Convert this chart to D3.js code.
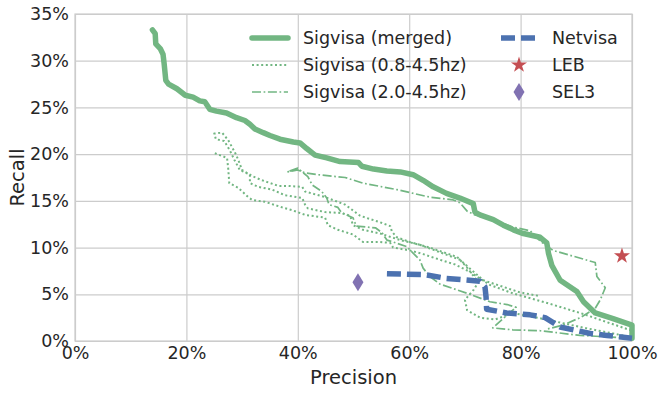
<!DOCTYPE html>
<html>
<head>
<meta charset="utf-8">
<script src="https://cdn.jsdelivr.net/npm/d3@7"></script>
<style>
  body { margin: 0; background: #fff; }
  text { font-family: "DejaVu Sans", sans-serif; fill: #262626; }
</style>
</head>
<body>
<div class="container"></div>
<script>
const w = 665
const h = 394
const margin = {top: 14, right: 33, bottom: 53, left: 75}

// precision %, recall %
const merged = [[13.9,33.3],[14.4,32.9],[14.5,31.8],[15.3,31.3],[15.8,30.7],[16.0,29.7],[16.3,27.9],[16.8,27.5],
  [18.3,27.0],[19.8,26.3],[21.2,26.1],[22.4,25.7],[23.3,25.6],[24.2,24.8],[25.4,24.6],[27.2,24.4],[29.0,23.9],
  [30.5,23.6],[31.4,23.2],[32.3,22.7],[33.8,22.3],[35.0,22.0],[36.8,21.6],[39.2,21.3],[40.4,21.2],[41.6,20.6],
  [43.1,19.9],[45.2,19.6],[47.6,19.2],[50.9,19.1],[51.5,18.7],[53.6,18.4],[56.0,18.2],[58.4,18.1],[60.7,17.8],
  [62.5,17.2],[64.3,16.5],[66.7,15.8],[69.1,15.3],[71.5,14.7],[71.8,13.8],[72.7,13.5],[75.1,13.0],[76.9,12.4],
  [78.7,11.9],[80.5,11.5],[83.5,11.1],[84.7,10.5],[85.0,9.4],[85.6,8.1],[87.1,6.5],[90.1,5.3],[91.3,4.2],
  [93.4,3.0],[96.6,2.4],[100,1.7],[100,0.3]]

const band08 = [[25.1,20.1],[27.3,19.6],[27.5,18.5],[27.7,16.9],[29.3,16.4],[31.1,15.4],[31.8,15.1],[34.1,14.9],
  [37.2,14.3],[39.0,14.0],[41.3,13.5],[44.9,13.2],[45.4,12.4],[47.2,11.9],[49.9,11.4],[51.7,10.6],[54.8,10.6],
  [56.6,10.5],[57.1,10.0],[60.1,9.7],[62.5,9.3],[65.5,8.7],[68.2,8.2],[70.9,7.4],[74.5,6.0],[78.6,5.1],
  [84.6,4.1],[90.7,3.0],[100,1.1],[100,0.4],[90.7,1.5],[84.6,2.3],[78.6,3.0],[75.4,2.3],[72.7,2.5],[70.4,3.3],
  [70.0,4.4],[71.6,5.5],[72.4,6.3],[70.2,8.0],[68.6,9.0],[63.7,10.0],[60.1,10.6],[57.8,11.1],[56.9,11.7],
  [56.6,12.3],[54.8,12.7],[51.2,13.4],[48.5,14.6],[44.9,15.4],[41.3,16.0],[40.8,16.5],[38.2,16.6],[36.5,16.6],
  [33.6,17.2],[32.0,17.6],[30.0,18.3],[29.3,19.4],[28.7,20.2],[27.5,21.5],[26.4,22.3],[25.0,22.2],[25.3,21.6],
  [26.8,21.4],[27.8,20.4],[28.6,19.4],[29.6,18.3],[31.4,17.8],[31.4,16.9],[32.9,16.5],[35.4,16.2],[37.7,15.6],
  [40.8,15.3],[41.3,14.6],[41.8,14.2],[44.9,13.8],[47.9,13.7],[49.4,13.4],[49.9,12.4],[51.7,11.9],[54.8,11.5],
  [58.4,10.8],[61.9,10.3],[65.5,9.5],[69.1,8.7],[73.3,6.5],[79.9,5.2],[83.5,4.8]]

const band20 = [[100,0.3],[90.7,0.6],[83.5,1.1],[78.6,1.2],[75.0,1.4],[76.7,2.3],[77.6,2.8],[79.2,3.6],[77.6,3.9],
  [74.5,4.2],[70.4,5.1],[65.5,6.1],[63.7,6.9],[62.5,7.8],[61.9,8.7],[60.7,9.4],[59.6,10.1],[57.1,10.6],
  [56.0,10.8],[55.1,11.6],[54.0,12.1],[50.5,12.3],[49.9,13.2],[47.9,13.7],[47.2,14.3],[45.6,14.6],[45.2,15.3],
  [44.3,16.0],[42.6,16.7],[41.8,17.6],[40.0,18.5],[38.1,18.1],[40.0,18.3],[41.3,18.0],[43.6,17.8],[48.5,17.5],
  [51.7,16.9],[57.8,16.2],[63.7,15.4],[67.9,15.1],[69.1,14.8],[70.4,13.9],[71.8,13.5],[75.0,13.0],[78.6,12.2],
  [81.7,11.8],[83.5,10.7],[85.8,9.7],[93.4,8.4],[93.7,6.9],[95.2,5.7],[94.3,4.4],[93.4,3.5],[90.7,2.5],
  [87.6,1.7],[84.9,1.3]]

const netvisa = [[56.0,7.2],[62.8,7.1],[66.7,6.7],[72.7,6.4],[73.6,5.8],[73.8,4.7],[73.9,3.4],[77.5,3.0],
  [81.7,2.8],[84.4,2.5],[87.1,1.5],[92.5,0.8],[95.5,0.6],[100,0.3]]

const leb = [98.2, 9.1]
const sel3 = [50.8, 6.3]

const xTicks = [0, 20, 40, 60, 80, 100]
const yTicks = [0, 5, 10, 15, 20, 25, 30, 35]

const green = "#72b682"
const blue = "#4c72b0"
const red = "#c44e52"
const purple = "#8172b2"

const svg = d3.select(".container")
              .append("svg")
              .attr("width", w)
              .attr("height", h)

const pw = w - margin.left - margin.right
const ph = h - margin.top - margin.bottom

const xScale = d3.scaleLinear().domain([0, 100]).range([0, pw])
const yScale = d3.scaleLinear().domain([0, 35]).range([ph, 0])

const g = svg.append("g").attr("transform", `translate(${margin.left}, ${margin.top})`)

const xAxis = d3.axisBottom(xScale)
                .tickValues(xTicks)
                .tickSizeInner(-ph)
                .tickSizeOuter(0)
                .tickPadding(6)
                .tickFormat(d => d + "%")
const yAxis = d3.axisLeft(yScale)
                .tickValues(yTicks)
                .tickSizeInner(-pw)
                .tickSizeOuter(0)
                .tickPadding(6)
                .tickFormat(d => d + "%")

const gx = g.append("g").attr("transform", `translate(0, ${ph})`).call(xAxis)
const gy = g.append("g").call(yAxis)
;[gx, gy].forEach(a => {
  a.select(".domain").remove()
  a.selectAll(".tick line").attr("stroke", "#cccccc").attr("stroke-width", 1.2)
  a.selectAll(".tick text").style("font-size", "17.5px").attr("fill", "#262626")
})

g.append("rect")
  .attr("width", pw).attr("height", ph)
  .attr("fill", "none").attr("stroke", "#cccccc").attr("stroke-width", 1.2)

svg.append("text")
  .attr("x", margin.left + pw / 2).attr("y", 384)
  .attr("text-anchor", "middle").style("font-size", "19.5px")
  .text("Precision")
svg.append("text")
  .attr("transform", `translate(24, ${margin.top + ph / 2}) rotate(-90)`)
  .attr("text-anchor", "middle").style("font-size", "19.5px")
  .text("Recall")

const line = d3.line().x(d => xScale(d[0])).y(d => yScale(d[1]))

const series = [
  {data: merged, color: green, width: 5.5, dash: null, cap: "round"},
  {data: band08, color: green, width: 2, dash: "2,2.6", cap: "butt"},
  {data: band20, color: green, width: 1.7, dash: "9,2.6,1.7,2.6", cap: "butt"},
  {data: netvisa, color: blue, width: 5.5, dash: "14,6", cap: "butt"}
]

series.forEach(s => {
  g.append("path")
    .datum(s.data)
    .attr("d", line)
    .attr("fill", "none")
    .attr("stroke", s.color)
    .attr("stroke-width", s.width)
    .attr("stroke-dasharray", s.dash)
    .attr("stroke-linecap", s.cap)
    .attr("stroke-linejoin", "round")
})

const star = d3.symbol().type(d3.symbolStar).size(80)
const diamond = "M0,-9L5.5,0L0,9L-5.5,0Z"

g.append("path")
  .attr("d", star())
  .attr("transform", `translate(${xScale(leb[0])}, ${yScale(leb[1])})`)
  .attr("fill", red)
g.append("path")
  .attr("d", diamond)
  .attr("transform", `translate(${xScale(sel3[0])}, ${yScale(sel3[1])})`)
  .attr("fill", purple)

// legend
const keys = [
  {name: "Sigvisa (merged)", col: 0, row: 0, s: series[0]},
  {name: "Sigvisa (0.8-4.5hz)", col: 0, row: 1, s: series[1]},
  {name: "Sigvisa (2.0-4.5hz)", col: 0, row: 2, s: series[2]},
  {name: "Netvisa", col: 1, row: 0, s: series[3]},
  {name: "LEB", col: 1, row: 1, m: "star"},
  {name: "SEL3", col: 1, row: 2, m: "diamond"}
]
const legend = svg.append("g").attr("id", "legend")
const colX = [252, 501]
keys.forEach(k => {
  const x0 = colX[k.col]
  const y0 = 38 + k.row * 27
  if (k.s) {
    legend.append("line")
      .attr("x1", x0).attr("x2", x0 + 36).attr("y1", y0).attr("y2", y0)
      .attr("stroke", k.s.color)
      .attr("stroke-width", k.s.width)
      .attr("stroke-dasharray", k.s.dash)
      .attr("stroke-linecap", k.s.cap)
  } else if (k.m === "star") {
    legend.append("path").attr("d", star()).attr("transform", `translate(${x0 + 18}, ${y0})`).attr("fill", red)
  } else {
    legend.append("path").attr("d", diamond).attr("transform", `translate(${x0 + 18}, ${y0})`).attr("fill", purple)
  }
  legend.append("text")
    .attr("x", x0 + 51).attr("y", y0)
    .attr("dy", "0.35em")
    .style("font-size", "17.5px")
    .text(k.name)
})
</script>
</body>
</html>
